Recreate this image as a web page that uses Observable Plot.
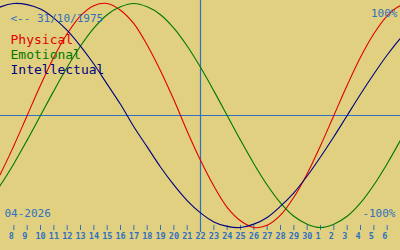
<!DOCTYPE html>
<html>
<head>
<meta charset="utf-8">
<script src="https://cdn.jsdelivr.net/npm/d3@7"></script>
<script src="https://cdn.jsdelivr.net/npm/@observablehq/plot@0.6"></script>
<style>
  html, body { margin: 0; padding: 0; background: #E0D080; overflow: hidden; }
  svg { display: block; }
</style>
</head>
<body>
<div id="chart"></div>
<script>
// Day index: April days as 6..30, May days as 31..38
const days = [6,7,8,9,10,11,12,13,14,15,16,17,18,19,20,21,22,23,24,25,26,27,28,29,30,31,32,33,34,35,36,37,38];
const physical = [-0.73,-0.52,-0.27,0,0.27,0.52,0.73,0.89,0.98,1.00,0.94,0.82,0.63,0.40,0.14,-0.14,-0.40,-0.63,-0.82,-0.94,-1.00,-0.98,-0.89,-0.73,-0.52,-0.27,0,0.27,0.52,0.73,0.89,0.98,1.00];
const emotional = [-0.78,-0.62,-0.43,-0.22,0,0.22,0.43,0.62,0.78,0.90,0.97,1.00,0.97,0.90,0.78,0.62,0.43,0.22,0,-0.22,-0.43,-0.62,-0.78,-0.90,-0.97,-1.00,-0.97,-0.90,-0.78,-0.62,-0.43,-0.22,0];
const intellectual = [0.91,0.97,1.00,0.99,0.95,0.87,0.76,0.62,0.46,0.28,0.10,-0.10,-0.28,-0.46,-0.62,-0.76,-0.87,-0.95,-0.99,-1.00,-0.97,-0.91,-0.81,-0.69,-0.54,-0.37,-0.19,0,0.19,0.37,0.54,0.69,0.81];
const seriesNames = ["Physical", "Emotional", "Intellectual"];
const tickDays = [8,9,10,11,12,13,14,15,16,17,18,19,20,21,22,23,24,25,26,27,28,29,30,31,32,33,34,35,36];
const tickLabels = ["8","9","10","11","12","13","14","15","16","17","18","19","20","21","22","23","24","25","26","27","28","29","30","1","2","3","4","5","6"];
const today = [22];
const birthLabel = ["<-- 31/10/1975"];
const monthLabel = ["04-2026"];
const maxLabel = ["100%"];
const minLabel = ["-100%"];

const colors = {Physical: "#E00000", Emotional: "#007800", Intellectual: "#000080"};
const blue = "#3070C0";
const font = "DejaVu Sans Mono";

const rows = [];
[physical, emotional, intellectual].forEach((vals, s) => {
  vals.forEach((v, i) => rows.push({series: seriesNames[s], day: days[i], value: v}));
});

const chart = Plot.plot({
  width: 400,
  height: 250,
  marginTop: 3,
  marginBottom: 23,
  marginLeft: 0,
  marginRight: 0,
  style: {background: "#E0D080", fontFamily: font, overflow: "hidden"},
  x: {domain: [7, 37], axis: null},
  y: {domain: [-1, 1], axis: null},
  marks: [
    Plot.ruleY([0], {stroke: blue, strokeWidth: 1}),
    Plot.ruleX(today, {stroke: blue, strokeWidth: 1.2, insetTop: -3, insetBottom: -5}),
    Plot.ruleX(tickDays, {x: d => d, y1: -0.982, y2: -1.027, stroke: blue, strokeWidth: 1}),
    Plot.text(tickDays, {x: d => d, text: (d, i) => tickLabels[i], frameAnchor: "bottom", dy: 11, dx: -5,
      textAnchor: "start", fill: blue, fontSize: 8.5, fontWeight: "bold", fontFamily: font}),
    Plot.line(rows, {x: "day", y: "value", z: "series", stroke: d => colors[d.series], strokeWidth: 1.1, curve: "catmull-rom"}),
    Plot.text(birthLabel, {frameAnchor: "top-left", dx: 10, dy: 18, lineAnchor: "bottom", text: d => d,
      fill: blue, fontSize: 11, letterSpacing: -0.6, fontFamily: font}),
    Plot.text(seriesNames, {frameAnchor: "top-left", dx: 10, dy: (d, i) => 0, text: d => d, lineAnchor: "bottom",
      fill: d => colors[d], fontSize: 13, fontFamily: font, filter: d => false}),
    Plot.text(seriesNames, {frameAnchor: "top-left", dx: 10, dy: 40, text: d => d, lineAnchor: "bottom",
      fill: d => colors[d], fontSize: 13, fontFamily: font, filter: d => d === "Physical"}),
    Plot.text(seriesNames, {frameAnchor: "top-left", dx: 10, dy: 55, text: d => d, lineAnchor: "bottom",
      fill: d => colors[d], fontSize: 13, fontFamily: font, filter: d => d === "Emotional"}),
    Plot.text(seriesNames, {frameAnchor: "top-left", dx: 10, dy: 70, text: d => d, lineAnchor: "bottom",
      fill: d => colors[d], fontSize: 13, fontFamily: font, filter: d => d === "Intellectual"}),
    Plot.text(maxLabel, {frameAnchor: "top-right", dx: -3, dy: 13, lineAnchor: "bottom", textAnchor: "end", text: d => d,
      fill: blue, fontSize: 11, letterSpacing: -0.6, fontFamily: font}),
    Plot.text(minLabel, {frameAnchor: "bottom-right", dx: -5, dy: -11, lineAnchor: "bottom", textAnchor: "end", text: d => d,
      fill: blue, fontSize: 11, letterSpacing: -0.6, fontFamily: font}),
    Plot.text(monthLabel, {frameAnchor: "bottom-left", dx: 4, dy: -11, lineAnchor: "bottom", text: d => d,
      fill: blue, fontSize: 11, letterSpacing: -0.6, fontFamily: font})
  ]
});
document.getElementById("chart").appendChild(chart);
</script>
</body>
</html>
